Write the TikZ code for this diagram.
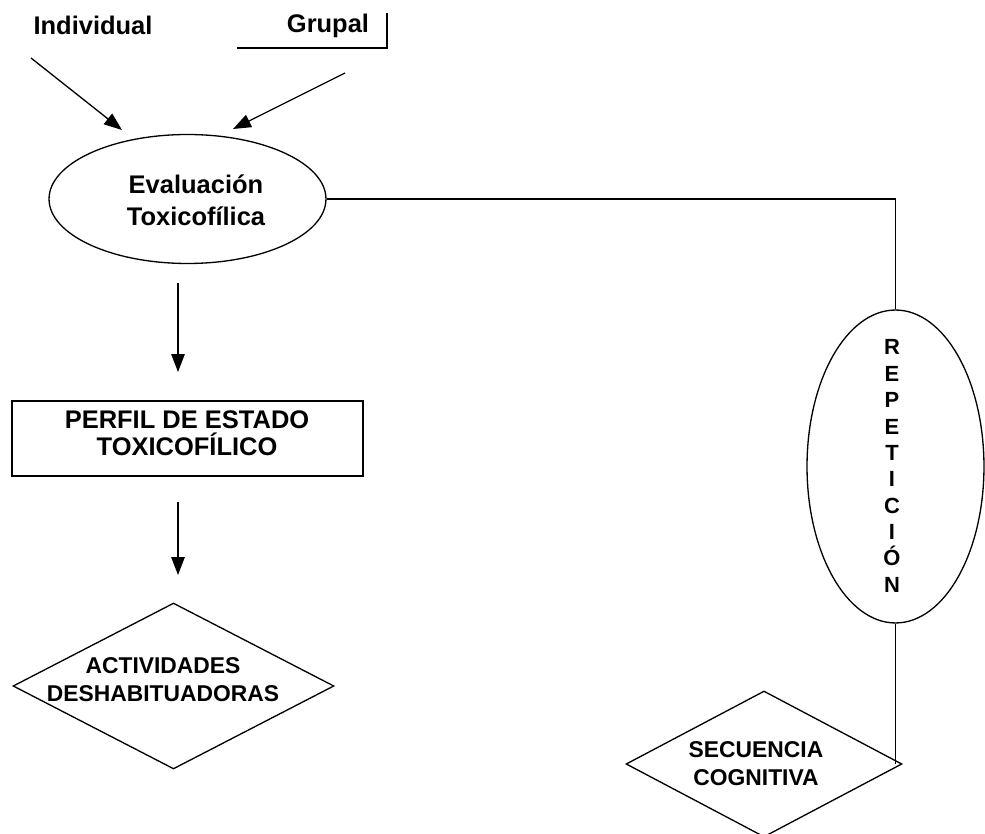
\documentclass[tikz,border=0pt]{standalone}
\usepackage{fontspec}
\setmainfont{Liberation Sans}
\usetikzlibrary{arrows.meta,shapes.geometric}

\tikzset{
  texto/.style={font=\bfseries\fontsize{14.5}{17}\selectfont, align=center, inner sep=0pt},
  textorombo/.style={font=\bfseries\fontsize{13}{16}\selectfont, align=center, inner sep=0pt},
  flecha/.style={-{Triangle[length=3.6mm,width=2.7mm]}, line width=.75pt},
  linea/.style={line width=.75pt},
  rombo/.style={draw, diamond, line width=.75pt, inner sep=0pt},
  elipse/.style={draw, ellipse, line width=.75pt, inner sep=0pt}
}

\begin{document}
\begin{tikzpicture}[x=0.02cm,y=-0.02cm]
\useasboundingbox (0,0) rectangle (985,834);

%%%%%%%%%%%%%%%%%%%%%%%%%%%%%%%%%%%%%%%%%%%%%%%% 	ENTRADAS
\node[texto] (indiv) at (93,25) {Individual};
\node[texto] (grupal) at (328,26) {Grupal};
\draw[linea] (237,48) -| (387,13);			%%%%	Raya bajo Grupal

\coordinate (indivA) at (31,58);
\coordinate (indivB) at (122,130);
\coordinate (grupA) at (345,73);
\coordinate (grupB) at (233,129);
\draw[flecha] (indivA) -- (indivB);
\draw[flecha] (grupA) -- (grupB);

%%%%%%%%%%%%%%%%%%%%%%%%%%%%%%%%%%%%%%%%%%%%%%%% 	EVALUACION
\node[elipse, minimum width=5.54cm, minimum height=2.58cm] (eval) at (187.5,199) {};
\node[texto] (evaltxt) at (196,200) {Evaluación\\[1pt]Toxicofílica};

\coordinate (evalA) at (178,283);
\coordinate (evalB) at (178,372);
\draw[flecha] (evalA) -- (evalB);

%%%%%%%%%%%%%%%%%%%%%%%%%%%%%%%%%%%%%%%%%%%%%%%% 	PERFIL
\node[draw, line width=.9pt, minimum width=7.02cm, minimum height=1.5cm] (perfil) at (187.5,438.5) {};
\node[texto] (perfiltxt) at (187,433) {PERFIL DE ESTADO\\[-1.5pt]TOXICOFÍLICO};

\coordinate (perfilA) at (178,502);
\coordinate (perfilB) at (178,575);
\draw[flecha] (perfilA) -- (perfilB);

%%%%%%%%%%%%%%%%%%%%%%%%%%%%%%%%%%%%%%%%%%%%%%%% 	ACTIVIDADES
\node[rombo, minimum width=6.42cm, minimum height=3.32cm] (activ) at (173.5,686) {};
\node[textorombo] (activtxt) at (163,680) {ACTIVIDADES\\DESHABITUADORAS};

%%%%%%%%%%%%%%%%%%%%%%%%%%%%%%%%%%%%%%%%%%%%%%%% 	REPETICION
\node[elipse, minimum width=3.54cm, minimum height=6.26cm] (rep) at (895.5,466.5) {};
\node[font=\bfseries\fontsize{12.5}{15}\selectfont, align=center, inner sep=0pt] (reptxt) at (892,466)
  {R\\E\\P\\E\\T\\I\\C\\I\\Ó\\N};

\coordinate (esquina) at (eval.east -| rep.north);
\draw[linea] (eval.east) -- (esquina) -- (rep.north);

%%%%%%%%%%%%%%%%%%%%%%%%%%%%%%%%%%%%%%%%%%%%%%%% 	SECUENCIA
\node[rombo, minimum width=5.52cm, minimum height=2.92cm] (secu) at (764,764) {};
\node[textorombo] (secutxt) at (756,764) {SECUENCIA\\COGNITIVA};

\draw[linea] (rep.south) -- (rep.south |- secu.east);

\end{tikzpicture}
\end{document}
